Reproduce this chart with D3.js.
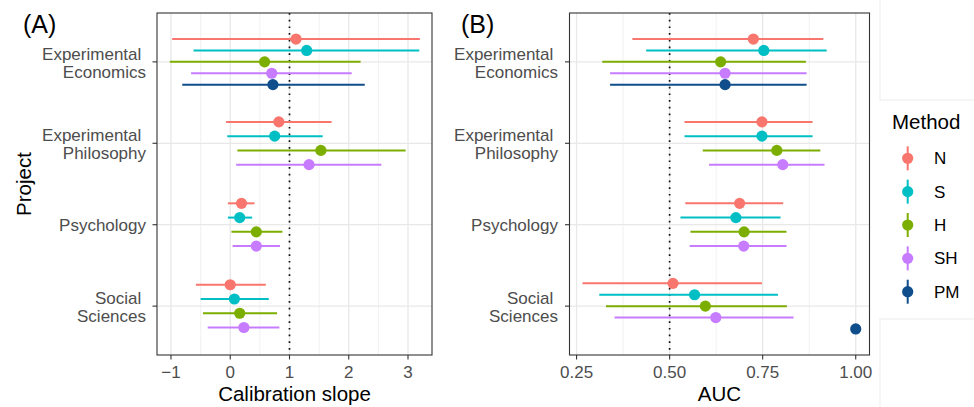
<!DOCTYPE html>
<html><head><meta charset="utf-8">
<script src="https://cdn.jsdelivr.net/npm/d3@7"></script>
<style>body{margin:0;background:#fff}svg{display:block;font-family:"Liberation Sans",Arial,sans-serif}</style>
</head><body>
<script>
// ---- data ----
const categories = ["Experimental\nEconomics", "Experimental\nPhilosophy", "Psychology", "Social\nSciences"];
const methods = ["N", "S", "H", "SH", "PM"];
const methodColors = ["#F8766D", "#00BFC4", "#7CAE00", "#C77CFF", "#104E8B"];

// Panel A: calibration slope (rows = methods N,S,H,SH,PM; cols = categories); null = not present
const slopeEst = [
  [1.11, 0.82, 0.19, 0.00],
  [1.29, 0.75, 0.16, 0.07],
  [0.58, 1.53, 0.44, 0.16],
  [0.70, 1.33, 0.44, 0.23],
  [0.72, null, null, null]
];
const slopeLo = [
  [-0.98, -0.07, -0.04, -0.58],
  [-0.62, -0.05, -0.04, -0.50],
  [-1.02, 0.12, 0.02, -0.46],
  [-0.66, 0.10, 0.04, -0.38],
  [-0.81, null, null, null]
];
const slopeHi = [
  [3.20, 1.71, 0.41, 0.60],
  [3.19, 1.56, 0.37, 0.65],
  [2.20, 2.96, 0.88, 0.79],
  [2.05, 2.55, 0.84, 0.83],
  [2.27, null, null, null]
];
const slopeTicks = [-1, 0, 1, 2, 3];

// Panel B: AUC
const aucEst = [
  [0.725, 0.748, 0.688, 0.509],
  [0.753, 0.748, 0.678, 0.567],
  [0.637, 0.788, 0.700, 0.596],
  [0.649, 0.804, 0.699, 0.624],
  [0.649, null, null, 1.000]
];
const aucLo = [
  [0.400, 0.540, 0.542, 0.266],
  [0.437, 0.540, 0.529, 0.311],
  [0.319, 0.589, 0.556, 0.329],
  [0.340, 0.606, 0.554, 0.352],
  [0.340, null, null, 1.000]
];
const aucHi = [
  [0.913, 0.884, 0.805, 0.748],
  [0.922, 0.884, 0.798, 0.791],
  [0.866, 0.905, 0.814, 0.815],
  [0.868, 0.916, 0.814, 0.833],
  [0.868, null, null, 1.000]
];
const aucTicks = [0.25, 0.50, 0.75, 1.00];

// ---- drawing ----
const W = 974, H = 407;
const svg = d3.select("body").append("svg").attr("width", W).attr("height", H);

// faint background boxes at the right
svg.append("path").attr("d", "M880,0 L880,100 L974,100").attr("fill", "none").attr("stroke", "#f2f2f2").attr("stroke-width", 1.5);
svg.append("path").attr("d", "M974,319 L880,319 L880,407").attr("fill", "none").attr("stroke", "#f2f2f2").attr("stroke-width", 1.5);

function panel(opts) {
  const {x0, x1, y0, y1, domain, ticks, minor, est, lo, hi, ref, fmt, title, xlabel, ylabel, labelRight} = opts;
  const g = svg.append("g");
  const x = d3.scaleLinear().domain(domain).range([x0, x1]);
  const y = d3.scalePoint().domain(categories).range([y0, y1]).padding(0.6);
  const step = y.step();

  // grid
  g.selectAll(".minor").data(minor).join("line")
    .attr("x1", d => x(d)).attr("x2", d => x(d)).attr("y1", y0).attr("y2", y1)
    .attr("stroke", "#ebebeb").attr("stroke-width", 0.7);
  g.selectAll(".major").data(ticks).join("line")
    .attr("x1", d => x(d)).attr("x2", d => x(d)).attr("y1", y0).attr("y2", y1)
    .attr("stroke", "#e8e8e8").attr("stroke-width", 1.3);
  g.selectAll(".hmajor").data(categories).join("line")
    .attr("x1", x0).attr("x2", x1).attr("y1", d => y(d)).attr("y2", d => y(d))
    .attr("stroke", "#e8e8e8").attr("stroke-width", 1.3);

  // reference line
  g.append("line").attr("x1", x(ref)).attr("x2", x(ref)).attr("y1", y0).attr("y2", y1)
    .attr("stroke", "#111").attr("stroke-width", 1.7).attr("stroke-dasharray", "1.7,5");

  // points
  const pts = [];
  categories.forEach((c, ci) => {
    const present = methods.map((m, mi) => mi).filter(mi => est[mi][ci] !== null);
    const k = present.length;
    present.forEach((mi, j) => {
      const off = (j - (k - 1) / 2) * (0.7 / k) * step;
      pts.push({cy: y(c) + off, e: est[mi][ci], l: lo[mi][ci], h: hi[mi][ci], col: methodColors[mi]});
    });
  });
  pts.forEach(p => {
    if (p.h > p.l) g.append("line").attr("x1", x(p.l)).attr("x2", x(p.h)).attr("y1", p.cy).attr("y2", p.cy)
      .attr("stroke", p.col).attr("stroke-width", 2);
    g.append("circle").attr("cx", x(p.e)).attr("cy", p.cy).attr("r", 5.6).attr("fill", p.col);
  });

  // border
  g.append("rect").attr("x", x0).attr("y", y0).attr("width", x1 - x0).attr("height", y1 - y0)
    .attr("fill", "none").attr("stroke", "#333").attr("stroke-width", 1.1);

  // x axis ticks and labels
  g.selectAll(".xt").data(ticks).join("line")
    .attr("x1", d => x(d)).attr("x2", d => x(d)).attr("y1", y1).attr("y2", y1 + 4.5)
    .attr("stroke", "#333").attr("stroke-width", 1.1);
  g.selectAll(".xl").data(ticks).join("text")
    .attr("x", d => x(d)).attr("y", 378).attr("text-anchor", "middle")
    .attr("font-size", 17).attr("fill", "#4d4d4d").text(fmt);
  g.append("text").attr("x", (x0 + x1) / 2).attr("y", 401).attr("text-anchor", "middle")
    .attr("font-size", 20.5).attr("fill", "#000").text(xlabel);

  // y axis ticks and labels
  g.selectAll(".yt").data(categories).join("line")
    .attr("x1", x0 - 4.5).attr("x2", x0).attr("y1", d => y(d)).attr("y2", d => y(d))
    .attr("stroke", "#333").attr("stroke-width", 1.1);
  categories.forEach(c => {
    const lines = c.split("\n");
    const t = g.append("text").attr("text-anchor", "end").attr("font-size", 17).attr("fill", "#4d4d4d");
    if (lines.length === 1) {
      t.append("tspan").attr("x", labelRight).attr("y", y(c) + 6).text(lines[0]);
    } else {
      t.append("tspan").attr("x", labelRight - 4.7).attr("y", y(c) - 2).text(lines[0]);
      t.append("tspan").attr("x", labelRight).attr("y", y(c) + 16).text(lines[1]);
    }
  });

  // title
  g.append("text").attr("x", opts.titleX).attr("y", 33).attr("font-size", 25).attr("fill", "#000").text(title);
  if (ylabel) {
    g.append("text").attr("transform", `translate(31,${(y0 + y1) / 2}) rotate(-90)`)
      .attr("text-anchor", "middle").attr("font-size", 20.5).attr("fill", "#000").text(ylabel);
  }
}

panel({x0: 157, x1: 432, y0: 13, y1: 355, domain: [-1.236, 3.405], ticks: slopeTicks,
  minor: [-0.5, 0.5, 1.5, 2.5], est: slopeEst, lo: slopeLo, hi: slopeHi, ref: 1,
  fmt: d => d < 0 ? "\u2212" + Math.abs(d) : String(d), title: "(A)", titleX: 23,
  xlabel: "Calibration slope", ylabel: "Project", labelRight: 146});

panel({x0: 569.5, x1: 869.5, y0: 13, y1: 355, domain: [0.231, 1.037], ticks: aucTicks,
  minor: [0.375, 0.625, 0.875], est: aucEst, lo: aucLo, hi: aucHi, ref: 0.5,
  fmt: d => d.toFixed(2), title: "(B)", titleX: 461,
  xlabel: "AUC", ylabel: null, labelRight: 558});

// legend
const lg = svg.append("g");
lg.append("text").attr("x", 892).attr("y", 129).attr("font-size", 20.5).attr("fill", "#000").text("Method");
methods.forEach((m, i) => {
  const cy = 158.3 + i * 33.35;
  lg.append("line").attr("x1", 907.7).attr("x2", 907.7).attr("y1", cy - 12).attr("y2", cy + 12)
    .attr("stroke", methodColors[i]).attr("stroke-width", 2);
  lg.append("circle").attr("cx", 907.7).attr("cy", cy).attr("r", 5.6).attr("fill", methodColors[i]);
  lg.append("text").attr("x", 934).attr("y", cy + 6).attr("font-size", 17).attr("fill", "#000").text(m);
});
</script>
</body></html>
